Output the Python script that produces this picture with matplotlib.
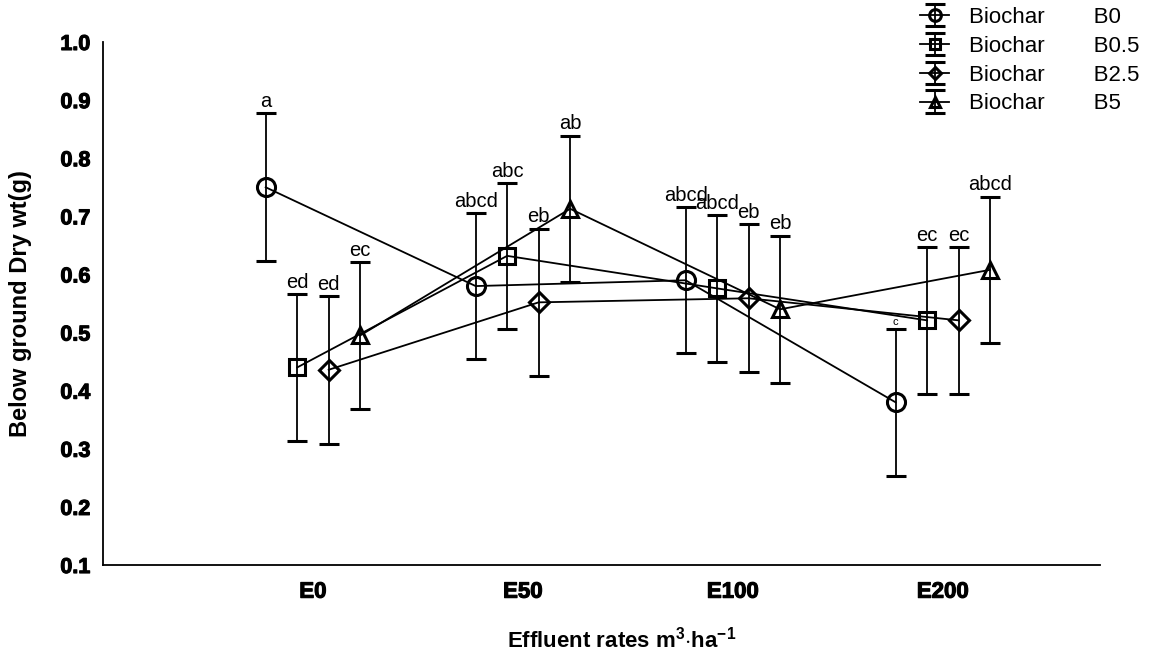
"""
Below ground dry weight vs effluent rate, grouped by biochar level.
"""
import matplotlib
matplotlib.use("Agg")
import matplotlib.pyplot as plt
import matplotlib.patheffects as pe
import numpy as np

plt.rcParams['font.family'] = ['Liberation Sans', 'DejaVu Sans']
plt.rcParams['mathtext.fontset'] = 'custom'
plt.rcParams['mathtext.rm'] = 'Liberation Sans'
plt.rcParams['mathtext.bf'] = 'Liberation Sans:bold'

# Data
effluent = ["E0", "E50", "E100", "E200"]
biochar = ["B0", "B0.5", "B2.5", "B5"]

dry_wt_b0 = [0.750, 0.580, 0.590, 0.380]
dry_wt_b05 = [0.440, 0.632, 0.576, 0.521]
dry_wt_b25 = [0.436, 0.552, 0.559, 0.521]
dry_wt_b5 = [0.495, 0.713, 0.540, 0.608]

err_b0 = [0.127, 0.126, 0.126, 0.126]
err_b05 = [0.127, 0.126, 0.127, 0.126]
err_b25 = [0.127, 0.127, 0.127, 0.126]
err_b5 = [0.127, 0.126, 0.127, 0.126]

letters_b0 = ["a", "abcd", "abcd", "c"]
letters_b05 = ["ed", "abc", "abcd", "ec"]
letters_b25 = ["ed", "eb", "eb", "ec"]
letters_b5 = ["ec", "ab", "eb", "abcd"]

# Styling
MARKERS = ["o", "s", "D", "^"]
MARKER_SIZES = [13, 12, 10, 11]
OFFSETS = [-0.225, -0.075, 0.075, 0.225]
DPI = 100
FIGSIZE = (11.57, 6.52)
HEAVY = [pe.withStroke(linewidth=0.8, foreground="black")]

series = [
    (dry_wt_b0, err_b0, letters_b0),
    (dry_wt_b05, err_b05, letters_b05),
    (dry_wt_b25, err_b25, letters_b25),
    (dry_wt_b5, err_b5, letters_b5),
]

fig = plt.figure(figsize=FIGSIZE, dpi=DPI)
ax = fig.add_axes([0.089, 0.1334, 0.862, 0.8022])

x = np.arange(len(effluent))
handles = []
for i, (vals, errs, letters) in enumerate(series):
    xs = x + OFFSETS[i]
    h = ax.errorbar(xs, vals, yerr=errs, color="black", lw=1.3,
                    elinewidth=1.3, capsize=7, capthick=1.3,
                    marker=MARKERS[i], ms=MARKER_SIZES[i], mfc="none",
                    mec="black", mew=2.2,
                    label=f"Biochar        {biochar[i]}")
    handles.append(h)
    for xi, v, e, lab in zip(xs, vals, errs, letters):
        # the lone "c" on B0/E200 is much smaller in the original
        fs = 8 if lab == "c" else 14.5
        ax.annotate(lab, (xi, v + e), xytext=(0, 1.5),
                    textcoords="offset points", ha="center", va="bottom",
                    fontsize=fs)

ax.set_xlim(-1.0, 3.75)
ax.set_ylim(0.1, 1.0)
ax.set_xticks(x)
ax.set_xticklabels(effluent, fontsize=16, fontweight="bold")
yt = np.arange(0.1, 1.01, 0.1)
ax.set_yticks(yt)
ax.set_yticklabels([f"{t:.1f}" for t in yt], fontsize=15.5, fontweight="bold")
for lab in ax.get_xticklabels() + ax.get_yticklabels():
    lab.set_path_effects(HEAVY)
ax.tick_params(axis="y", length=0, pad=9)
ax.tick_params(axis="x", length=0, pad=12)

for side in ["top", "right"]:
    ax.spines[side].set_visible(False)
for side in ["left", "bottom"]:
    ax.spines[side].set_linewidth(1.3)

ax.set_ylabel("Below ground Dry wt(g)", fontsize=17, fontweight="bold")
ax.yaxis.set_label_coords(-0.071, 0.5)
ax.set_xlabel(r"Effluent rates m$^{\mathbf{3}}$$\cdot$ha$^{\mathbf{-1}}$",
              fontsize=16, fontweight="bold")
ax.xaxis.set_label_coords(0.52, -0.118)

fig.legend(handles=handles, loc="upper left",
           bbox_to_anchor=(0.778, 1.02), frameon=False, fontsize=16,
           handlelength=1.3, handletextpad=0.9, labelspacing=0.35,
           markerscale=0.65)

fig.savefig("out.png", dpi=DPI)
plt.close(fig)
